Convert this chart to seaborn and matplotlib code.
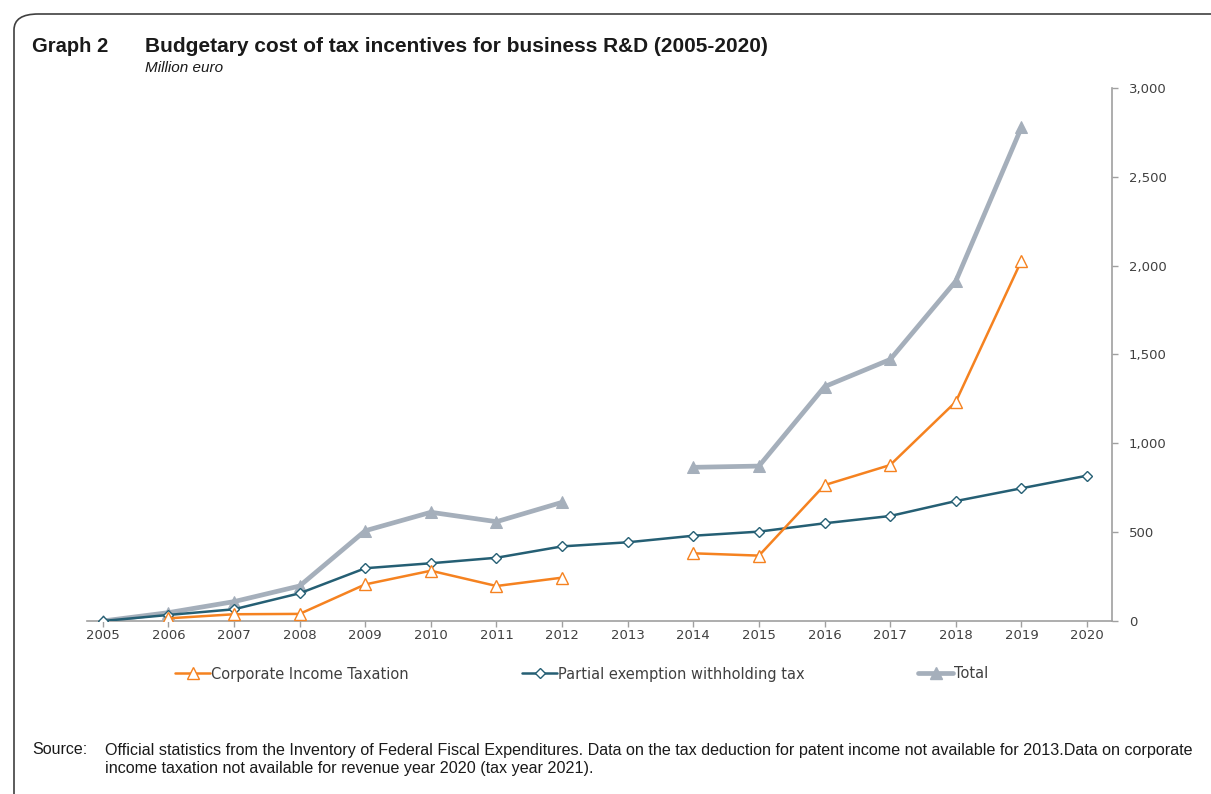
import numpy as np
import pandas as pd
import matplotlib
matplotlib.use("Agg")
import matplotlib.pyplot as plt
import seaborn as sns
from matplotlib.lines import Line2D
from matplotlib.patches import FancyBboxPatch
from matplotlib.ticker import FuncFormatter, FixedLocator

years = ["2005", "2006", "2007", "2008", "2009", "2010", "2011", "2012",
         "2013", "2014", "2015", "2016", "2017", "2018", "2019", "2020"]
corporate = [np.nan, 15, 38, 40, 206, 283, 197, 244,
             np.nan, 381, 368, 765, 878, 1234, 2028, np.nan]
partial = [0, 34, 66, 156, 297, 325, 356, 420,
           443, 480, 503, 550, 591, 675, 747, 818]
total = [0, 47, 109, 197, 508, 612, 559, 668,
         np.nan, 865, 872, 1319, 1472, 1913, 2778, np.nan]
series_names = ["Corporate Income Taxation", "Partial exemption withholding tax", "Total"]
y_ticks = [0, 500, 1000, 1500, 2000, 2500, 3000]

C_OR = "#F58220"
C_TE = "#255F74"
C_GR = "#A5AFBB"
TXT = "#404040"

sns.set_theme(style="white")
plt.rcParams['font.family'] = ['DejaVu Sans']

fig = plt.figure(figsize=(12.11, 7.94), dpi=100)
ax = fig.add_axes([87/1211, 1-621/794, (1112-87)/1211, (621-88)/794])


def segments(vals):
    rows = []
    seg = 0
    prev_nan = True
    for i, v in enumerate(vals):
        if np.isnan(v):
            prev_nan = True
            continue
        if prev_nan:
            seg += 1
            prev_nan = False
        rows.append({"x": i, "y": v, "seg": seg})
    return pd.DataFrame(rows)


df_t = segments(total)
df_p = segments(partial)
df_c = segments(corporate)

sns.lineplot(data=df_t, x="x", y="y", units="seg", estimator=None, ax=ax,
             color=C_GR, lw=3.4, marker="^", markersize=9,
             markerfacecolor=C_GR, markeredgecolor=C_GR, zorder=2)
sns.lineplot(data=df_p, x="x", y="y", units="seg", estimator=None, ax=ax,
             color=C_TE, lw=1.8, marker="D", markersize=5.5,
             markerfacecolor="white", markeredgecolor=C_TE, markeredgewidth=1.0, zorder=3)
sns.lineplot(data=df_c, x="x", y="y", units="seg", estimator=None, ax=ax,
             color=C_OR, lw=1.8, marker="^", markersize=8,
             markerfacecolor="white", markeredgecolor=C_OR, markeredgewidth=1.0, zorder=4)

ax.set_xlim(-0.24, 15.38)
ax.set_ylim(0, 3000)
ax.set_xlabel("")
ax.set_ylabel("")
ax.xaxis.set_major_locator(FixedLocator(range(len(years))))
ax.set_xticklabels(years)
ax.yaxis.set_major_locator(FixedLocator(y_ticks))
ax.yaxis.set_major_formatter(FuncFormatter(lambda v, p: f"{int(v):,}"))
ax.yaxis.tick_right()

for s in ["top", "left"]:
    ax.spines[s].set_visible(False)
for s in ["bottom", "right"]:
    ax.spines[s].set_color("#A0A0A0")
    ax.spines[s].set_linewidth(1.2)
ax.tick_params(axis="x", length=4, width=1, color="#A0A0A0", labelsize=9.5,
               labelcolor=TXT, pad=2, direction="out", bottom=True)
ax.tick_params(axis="y", length=4, width=1, color="#A0A0A0", labelsize=9.5,
               labelcolor=TXT, pad=8, direction="out", right=True)
ax.patch.set_alpha(0)

handles = [
    Line2D([], [], color=C_OR, lw=1.8, marker="^", markersize=8,
           markerfacecolor="white", markeredgecolor=C_OR),
    Line2D([], [], color=C_TE, lw=1.8, marker="D", markersize=5.5,
           markerfacecolor="white", markeredgecolor=C_TE),
    Line2D([], [], color=C_GR, lw=3.4, marker="^", markersize=9,
           markerfacecolor=C_GR, markeredgecolor=C_GR),
]
xs = [175, 522, 918]
for h, name, x0 in zip(handles, series_names, xs):
    fig.legend([h], [name], loc="center left",
               bbox_to_anchor=(x0/1211, 1-674/794), frameon=False,
               fontsize=10.5, labelcolor=TXT, handlelength=2.4, handletextpad=0.1,
               borderaxespad=0, borderpad=0)

# frame
frame = FancyBboxPatch((14/1211, -0.05), 1.2, 1-14/794+0.05,
                       boxstyle="round,pad=0,rounding_size=0.02",
                       transform=fig.transFigure, fill=False,
                       edgecolor="#404040", lw=1.2, clip_on=False)
fig.patches.append(frame)

tfont = ['Liberation Sans', 'DejaVu Sans']
fig.text(32/1211, 1-47/794, "Graph 2", fontsize=14.5, fontweight="bold",
         family=tfont, color="#1a1a1a", va="center")
fig.text(145/1211, 1-47/794, "Budgetary cost of tax incentives for business R&D (2005-2020)",
         fontsize=15, fontweight="bold", family=tfont, color="#1a1a1a", va="center")
fig.text(145/1211, 1-68/794, "Million euro", fontsize=11, style="italic",
         family=tfont, color="#1a1a1a", va="center")
fig.text(32/1211, 1-750/794, "Source:", fontsize=11.5, family=tfont, color="#1a1a1a", va="center")
fig.text(105/1211, 1-750/794,
         "Official statistics from the Inventory of Federal Fiscal Expenditures. Data on the tax deduction for patent income not available for 2013.Data on corporate",
         fontsize=11.6, family=tfont, color="#1a1a1a", va="center")
fig.text(105/1211, 1-768/794,
         "income taxation not available for revenue year 2020 (tax year 2021).",
         fontsize=11.6, family=tfont, color="#1a1a1a", va="center")

fig.savefig("out.png", dpi=100, facecolor="white")
